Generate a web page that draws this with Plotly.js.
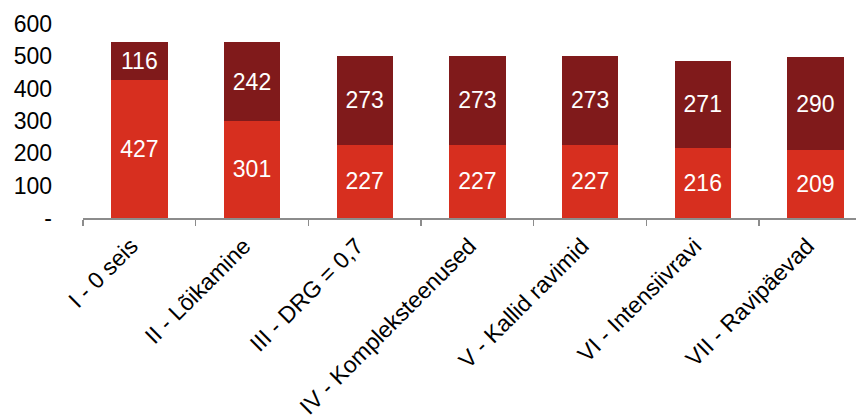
<!DOCTYPE html>
<html><head><meta charset="utf-8">
<script src="https://cdn.plot.ly/plotly-3.0.1.min.js"></script>
<style>body{margin:0;background:#fff}#c{width:856px;height:420px}</style>
</head><body><div id="c"></div>
<script>
const categories = ["I - 0 seis","II - Lõikamine","III - DRG = 0,7","IV - Kompleksteenused","V - Kallid ravimid","VI - Intensiivravi","VII - Ravipäevad"];
const bottomValues = [427,301,227,227,227,216,209];
const topValues = [116,242,273,273,273,271,290];
const yTickVals = [0,100,200,300,400,500,600];
const yTickText = ["-","100","200","300","400","500","600"];

const font = {family:"Liberation Sans, Arial, sans-serif", size:23, color:"#000"};
const traces = [
  {type:"bar", x:categories, y:bottomValues, text:bottomValues.map(String), textposition:"inside", insidetextanchor:"middle",
   textfont:{family:font.family,size:23,color:"#fff"}, marker:{color:"#d72f1f"}, hoverinfo:"none"},
  {type:"bar", x:categories, y:topValues, text:topValues.map(String), textposition:"inside", insidetextanchor:"middle",
   textfont:{family:font.family,size:23,color:"#fff"}, marker:{color:"#801a1b"}, hoverinfo:"none"}
];
const layout = {
  width:856, height:420, barmode:"stack", bargap:0.5, showlegend:false,
  margin:{l:83, r:0, t:24, b:202},
  paper_bgcolor:"#fff", plot_bgcolor:"#fff",
  font:font,
  xaxis:{type:"category", range:[-0.5,6.36], showline:true, linecolor:"#8c8c8c", linewidth:1.5,
         ticks:"outside", tickson:"boundaries", ticklen:6, tickcolor:"#8c8c8c", tickwidth:1.5,
         tickangle:-45, tickfont:font, showgrid:false, zeroline:false, ticklabelstandoff:4, ticklabelshift:-8},
  yaxis:{range:[0,600], tickvals:yTickVals, ticktext:yTickText, showgrid:false, zeroline:false,
         showline:false, ticks:"", tickfont:font, ticklabelstandoff:30}
};
Plotly.newPlot("c", traces, layout, {staticPlot:true});
</script></body></html>
